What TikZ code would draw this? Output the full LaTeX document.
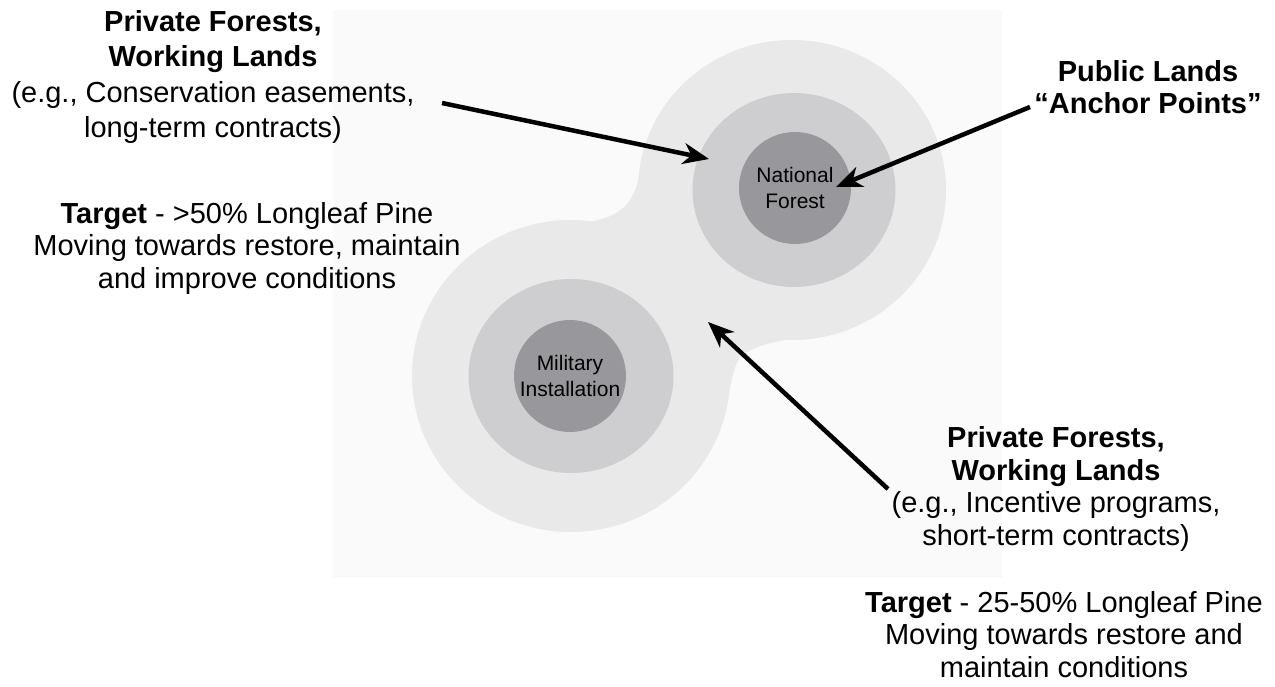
\documentclass[tikz,border=0pt]{standalone}
\usepackage{fontspec}
\setmainfont{Liberation Sans}
\usetikzlibrary{arrows.meta,shapes.geometric}
\definecolor{outerg}{RGB}{233,233,233}
\definecolor{midg}{RGB}{206,206,209}
\definecolor{innerg}{RGB}{152,152,156}
\definecolor{bgg}{RGB}{250,250,250}
\begin{document}
\begin{tikzpicture}[x=1pt,y=-1pt,
  big/.style={font=\fontsize{29}{32.5}\selectfont, align=center, inner sep=0pt, anchor=base},
  head/.style={big, font=\fontsize{29}{35.5}\selectfont},
  small/.style={font=\fontsize{21}{25.5}\selectfont, align=center, inner sep=0pt},
  arr/.style={line width=4.5pt, -{Stealth[length=26pt,width=21pt,inset=8pt]}},
  zone/.style={ellipse, inner sep=0pt, draw=none},
  core/.style={circle, inner sep=0pt, draw=none, fill=innerg, minimum size=112pt}]
\useasboundingbox (0,0) rectangle (1275,687);
\fill[bgg] (333,10) rectangle (1002,578);
% outer buffer zone
\fill[outerg] (792,190) ellipse [x radius=154, y radius=150];
\fill[outerg] (571,376) ellipse [x radius=159, y radius=156];
\fill[outerg] (792,190) -- (640,172) .. controls (634,205) and (620,216) .. (590,222)
  .. controls (545,230) and (500,238) .. (465,262) -- (571,376) -- cycle;
\fill[outerg] (792,190) -- (790,339) .. controls (760,344) and (740,352) .. (736,365)
  .. controls (731,378) and (730,392) .. (726,408) -- (571,376) -- cycle;
% middle zones
\node[zone, fill=midg, minimum width=203pt, minimum height=194pt] (nfmid) at (794,190) {};
\node[zone, fill=midg, minimum width=205pt, minimum height=194pt] (mimid) at (571,376) {};
% cores
\node[core, small] (nf) at (795,188) {National\\Forest};
\node[core, small] (mi) at (570,376) {Military\\Installation};
% texts
\node[head] (pf1) at (213,138) {\textbf{Private Forests,}\\\textbf{Working Lands}\\(e.g., Conservation easements,\\long-term contracts)};
\node[big] (tg1) at (247,288) {\textbf{Target} - >50\% Longleaf Pine\\Moving towards restore, maintain\\and improve conditions};
\node[big] (pl) at (1148,114) {\textbf{Public Lands}\\\textbf{“Anchor Points”}};
\node[big] (pf2) at (1056,545) {\textbf{Private Forests,}\\\textbf{Working Lands}\\(e.g., Incentive programs,\\short-term contracts)};
\node[big] (tg2) at (1064,677) {\textbf{Target} - 25-50\% Longleaf Pine\\Moving towards restore and\\maintain conditions};
% arrows
\coordinate (t1) at (442,103); \coordinate (h1) at (709,159);
\coordinate (t2) at (1030,107); \coordinate (h2) at (836,187);
\coordinate (t3) at (888,489); \coordinate (h3) at (708,322);
\draw[arr] (t1) -- (h1);
\draw[arr] (t2) -- (h2);
\draw[arr] (t3) -- (h3);
\end{tikzpicture}
\end{document}
